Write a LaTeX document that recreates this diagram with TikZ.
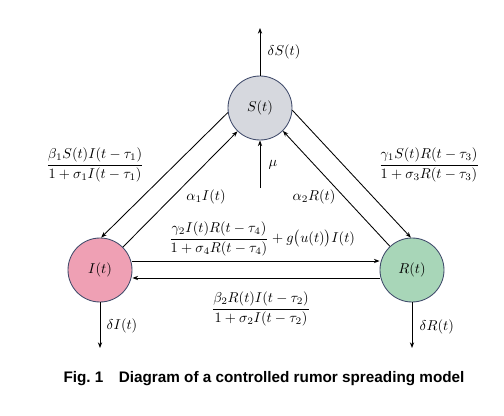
\documentclass[tikz,border=0pt]{standalone}
\usepackage{amsmath}
\usepackage{fontspec}
\newfontfamily\capfont{Liberation Sans}
\usetikzlibrary{arrows.meta,positioning}
\definecolor{sgray}{RGB}{214,216,222}
\definecolor{ipink}{RGB}{239,160,180}
\definecolor{rgreen}{RGB}{168,214,184}
\definecolor{rim}{RGB}{63,74,106}
\tikzset
{
	statenode/.style = {circle, draw=rim, line width=0.6pt, align=center, minimum size=44.8pt, inner sep=0pt},
	flow/.style = {-{Stealth[length=4pt,width=3pt]}, line width=0.6pt},
	rate/.style = {inner sep=1pt}
}

\begin{document}
\begin{tikzpicture}[x=0.7pt, y=-0.7pt]
\useasboundingbox (0,0) rectangle (504,416);
% compartments
\node[statenode, fill=sgray]  (S) at (260,108) {$S(t)$};
\node[statenode, fill=ipink]  (I) at (100,270) {$I(t)$};
\node[statenode, fill=rgreen] (R) at (412,270) {$R(t)$};
% free ends
\coordinate (Sout) at (260,28);
\coordinate (Min)  at (260,188);
\coordinate (Iout) at (100,348);
\coordinate (Rout) at (412,348);
% flows
\draw[flow] (S.north) -- (Sout);
\draw[flow] (Min) -- (S.south);
\draw[flow] (S.188) -- (I.88);
\draw[flow] (I.45) -- (S.226);
\draw[flow] (R.133) -- (S.315);
\draw[flow] (S.356) -- (R.92);
\draw[flow] ([yshift=6.3pt]I.east) -- ([yshift=6.3pt]R.west);
\draw[flow] ([yshift=-5.6pt]R.west) -- ([yshift=-5.6pt]I.east);
\draw[flow] (I.south) -- (Iout);
\draw[flow] (R.south) -- (Rout);
% rates
\node[rate, anchor=west] (dS) at (266,52) {$\delta S(t)$};
\node[rate, anchor=west] (mu) at (267,165) {$\mu$};
\node[rate] (b1) at (95,165) {$\dfrac{\beta_1 S(t)I(t-\tau_1)}{1+\sigma_1 I(t-\tau_1)}$};
\node[rate] (g1) at (429,165) {$\dfrac{\gamma_1 S(t)R(t-\tau_3)}{1+\sigma_3 R(t-\tau_3)}$};
\node[rate] (a1) at (206,197) {$\alpha_1 I(t)$};
\node[rate] (a2) at (314,197) {$\alpha_2 R(t)$};
\node[rate] (g2) at (262,239) {$\dfrac{\gamma_2 I(t)R(t-\tau_4)}{1+\sigma_4 R(t-\tau_4)}+g\big(u(t)\big)I(t)$};
\node[rate] (b2) at (261,309) {$\dfrac{\beta_2 R(t)I(t-\tau_2)}{1+\sigma_2 I(t-\tau_2)}$};
\node[rate, anchor=west] (dI) at (105,326) {$\delta I(t)$};
\node[rate, anchor=west] (dR) at (418,327) {$\delta R(t)$};
% caption
\node (cap) at (264,379) {\capfont\bfseries\fontsize{10.7}{12}\selectfont Fig.~1\quad Diagram of a controlled rumor spreading model};
\end{tikzpicture}
\end{document}
